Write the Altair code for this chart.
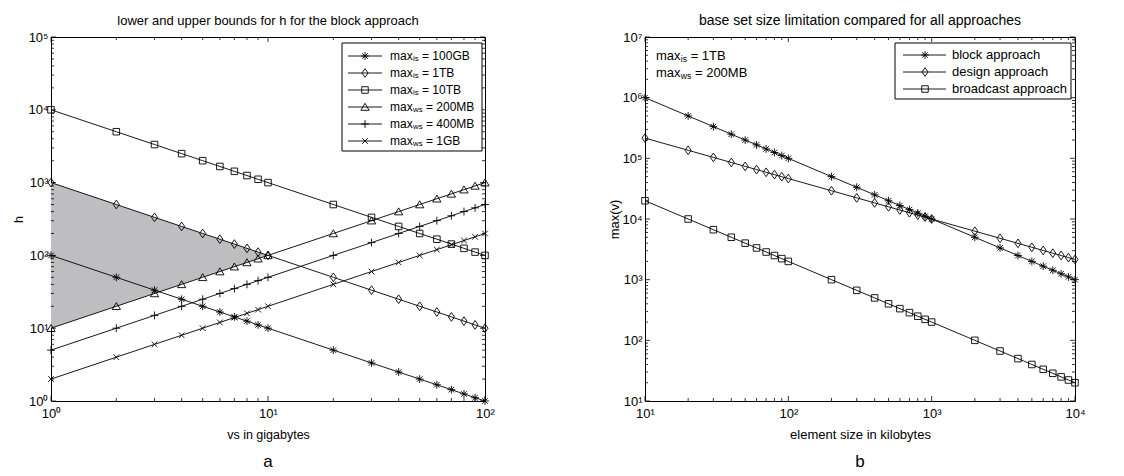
import altair as alt
import pandas as pd

FONT = "Liberation Sans"

# ---------------- panel a data ----------------
x_a = [1, 2, 3, 4, 5, 6, 7, 8, 9, 10, 20, 30, 40, 50, 60, 70, 80, 90, 100]
h_100GB = [100, 50, 33.3, 25, 20, 16.7, 14.3, 12.5, 11.1, 10, 5, 3.33, 2.5, 2, 1.67, 1.43, 1.25, 1.11, 1]
h_1TB = [1000, 500, 333, 250, 200, 167, 143, 125, 111, 100, 50, 33.3, 25, 20, 16.7, 14.3, 12.5, 11.1, 10]
h_10TB = [10000, 5000, 3333, 2500, 2000, 1667, 1429, 1250, 1111, 1000, 500, 333, 250, 200, 167, 143, 125, 111, 100]
h_200MB = [10, 20, 30, 40, 50, 60, 70, 80, 90, 100, 200, 300, 400, 500, 600, 700, 800, 900, 1000]
h_400MB = [5, 10, 15, 20, 25, 30, 35, 40, 45, 50, 100, 150, 200, 250, 300, 350, 400, 450, 500]
h_1GB = [2, 4, 6, 8, 10, 12, 14, 16, 18, 20, 40, 60, 80, 100, 120, 140, 160, 180, 200]
names_a = ["maxis = 100GB", "maxis = 1TB", "maxis = 10TB",
           "maxws = 200MB", "maxws = 400MB", "maxws = 1GB"]
series_a = [h_100GB, h_1TB, h_10TB, h_200MB, h_400MB, h_1GB]
# shaded region: between 1TB (upper) and 200MB (lower) for vs in 1..10
shade_x = [1, 2, 3, 4, 5, 6, 7, 8, 9, 10]
shade_hi = [1000, 500, 333, 250, 200, 167, 143, 125, 111, 100]
shade_lo = [10, 20, 30, 40, 50, 60, 70, 80, 90, 100]

# ---------------- panel b data ----------------
x_b = [10, 20, 30, 40, 50, 60, 70, 80, 90, 100, 200, 300, 400, 500, 600, 700, 800, 900,
       1000, 2000, 3000, 4000, 5000, 6000, 7000, 8000, 9000, 10000]
v_block = [1000000, 500000, 333333, 250000, 200000, 166667, 142857, 125000, 111111, 100000,
           50000, 33333, 25000, 20000, 16667, 14286, 12500, 11111, 10000,
           5000, 3333, 2500, 2000, 1667, 1429, 1250, 1111, 1000]
v_design = [215443, 135721, 103574, 85499, 73681, 65248, 58876, 53861, 49791, 46416,
            29240, 22314, 18420, 15874, 14057, 12685, 11604, 10728, 10000,
            6300, 4807, 3969, 3420, 3029, 2733, 2500, 2311, 2154]
v_broadcast = [20000, 10000, 6667, 5000, 4000, 3333, 2857, 2500, 2222, 2000,
               1000, 667, 500, 400, 333, 286, 250, 222, 200,
               100, 66.7, 50, 40, 33.3, 28.6, 25, 22.2, 20]
names_b = ["block approach", "design approach", "broadcast approach"]
series_b = [v_block, v_design, v_broadcast]
annot_b = ["maxis = 1TB", "maxws = 200MB"]

# ---------------- marker paths (unit coords) ----------------
P_AST = "M-0.9,0L0.9,0M0,-0.9L0,0.9M-0.64,-0.64L0.64,0.64M-0.64,0.64L0.64,-0.64"
P_DIA = "M0,-1L0.7,0L0,1L-0.7,0Z"
P_SQ = "M-0.75,-0.75L0.75,-0.75L0.75,0.75L-0.75,0.75Z"
P_TRI = "M0,-0.85L0.95,0.75L-0.95,0.75Z"
P_PLUS = "M-0.9,0L0.9,0M0,-0.9L0,0.9"
P_X = "M-0.65,-0.65L0.65,0.65M-0.65,0.65L0.65,-0.65"

paths_a = [P_AST, P_DIA, P_SQ, P_TRI, P_PLUS, P_X]
paths_b = [P_AST, P_DIA, P_SQ]

EXP = "'10' + ['⁰','¹','²','³','⁴','⁵','⁶','⁷'][round(log(datum.value)/LN10)]"
MULT = [1, 2, 3, 4, 5, 6, 7, 8, 9]
# approximate Arial advance widths (em) used to place subscripts
CW = {"m": 0.833, "a": 0.556, "x": 0.5, "i": 0.222, "s": 0.5, "w": 0.722}
ONE = pd.DataFrame({"k": [0]})
MSIZE = 76
SW = 0.9


def long_df(xs, names, series):
    rows = []
    for n, ys in zip(names, series):
        for xv, yv in zip(xs, ys):
            rows.append({"x": xv, "y": yv, "series": n})
    return pd.DataFrame(rows)


def tick_df(e0, e1):
    rows = []
    for e in range(e0, e1):
        for m in MULT:
            rows.append({"v": m * 10 ** e, "kind": "major" if m == 1 else "minor"})
    rows.append({"v": 10 ** e1, "kind": "major"})
    return pd.DataFrame(rows)


def txt(t, x, y, size):
    return alt.Chart(pd.DataFrame({"t": [t]})).mark_text(
        font=FONT, fontSize=size, color="black", align="left", baseline="middle").encode(
        text="t:N", x=alt.value(x), y=alt.value(y))


def label_layers(label, x0, y, fs):
    """label like 'maxis = 1TB' -> 'max' + subscript 'is' + '= 1TB'"""
    if not label.startswith("max"):
        return [txt(label, x0, y, fs)]
    sub = label[3:5]
    rest = label[6:]
    sfs = fs * 0.66
    w_max = sum(CW[c] for c in "max") * fs
    w_sub = sum(CW[c] for c in sub) * sfs
    return [txt("max", x0, y, fs),
            txt(sub, x0 + w_max + 0.3, y + 3, sfs),
            txt(rest, x0 + w_max + w_sub + 0.3 + 0.278 * fs, y, fs)]


def legend_layers(names, paths, box, fs):
    bx0, bx1, by0, by1, row0, dy, l0, l1, mk, lx = box
    out = [alt.Chart(ONE).mark_rect(fill="white", stroke="black", strokeWidth=1).encode(
        x=alt.value(bx0), x2=alt.value(bx1), y=alt.value(by0), y2=alt.value(by1))]
    for i, (n, p) in enumerate(zip(names, paths)):
        yy = row0 + dy * i
        out.append(alt.Chart(ONE).mark_rule(color="black", strokeWidth=SW).encode(
            x=alt.value(bx0 + l0), x2=alt.value(bx0 + l1), y=alt.value(yy)))
        out.append(alt.Chart(ONE).mark_point(filled=False, color="black", strokeWidth=SW,
                                             size=MSIZE, opacity=1).encode(
            x=alt.value(bx0 + mk), y=alt.value(yy), shape=alt.value(p)))
        out += label_layers(n, bx0 + lx, yy, fs)
    return out


def panel(df, names, paths, xs, ys, xvals, yvals, xtitle, ytitle, title, W, H,
          xt, yt, legbox, letter, ytx, fs_title, fs_axis, fs_leg, extra=None):
    xscale = alt.Scale(type="log", domain=xs, nice=False)
    yscale = alt.Scale(type="log", domain=ys, nice=False)
    lines = alt.Chart(df).mark_line(color="black", strokeWidth=SW).encode(
        x=alt.X("x:Q", scale=xscale,
                axis=alt.Axis(values=xvals, labelExpr=EXP, title=xtitle, labelFlush=False,
                              labelOverlap=False, labelPadding=6, titleY=33,
                              titleBaseline="middle", titleFontSize=fs_axis)),
        y=alt.Y("y:Q", scale=yscale,
                axis=alt.Axis(values=yvals, labelExpr=EXP, title=ytitle, labelFlush=False,
                              labelOverlap=False, labelPadding=3, titleX=ytx, titleY=H / 2,
                              titleBaseline="middle", titleAlign="center", titleAngle=270,
                              titleFontSize=fs_axis)),
        detail="series:N",
    )
    pts = alt.Chart(df).mark_point(filled=False, color="black", strokeWidth=SW, size=MSIZE,
                                   opacity=1).encode(
        x=alt.X("x:Q", scale=xscale, axis=None),
        y=alt.Y("y:Q", scale=yscale, axis=None),
        shape=alt.Shape("series:N", scale=alt.Scale(domain=names, range=paths), legend=None),
    )
    layers = []
    if extra is not None:
        layers += extra(xscale, yscale)
    layers += [lines, pts]
    tx, ty = tick_df(*xt), tick_df(*yt)
    for kind, L in [("major", 5), ("minor", 3)]:
        sx = tx[tx.kind == kind]
        sy = ty[ty.kind == kind]
        r = dict(color="black", strokeWidth=0.8)
        layers.append(alt.Chart(sx).mark_rule(**r).encode(
            x=alt.X("v:Q", scale=xscale, axis=None), y=alt.value(0), y2=alt.value(L)))
        layers.append(alt.Chart(sx).mark_rule(**r).encode(
            x=alt.X("v:Q", scale=xscale, axis=None), y=alt.value(H), y2=alt.value(H - L)))
        layers.append(alt.Chart(sy).mark_rule(**r).encode(
            y=alt.Y("v:Q", scale=yscale, axis=None), x=alt.value(0), x2=alt.value(L)))
        layers.append(alt.Chart(sy).mark_rule(**r).encode(
            y=alt.Y("v:Q", scale=yscale, axis=None), x=alt.value(W), x2=alt.value(W - L)))
    layers += legend_layers(names, paths, legbox, fs_leg)
    lab = alt.Chart(pd.DataFrame({"t": [letter]})).mark_text(
        font=FONT, fontSize=17, color="black", baseline="alphabetic").encode(
        text="t:N", x=alt.value(W / 2), y=alt.value(H + 66))
    layers.append(lab)
    return alt.layer(*layers).resolve_scale(shape="independent").resolve_axis(
        x="independent", y="independent").properties(
        width=W, height=H,
        title=alt.TitleParams(title, font=FONT, fontSize=fs_title, fontWeight="normal",
                              color="black", offset=3),
    )


def shade(xscale, yscale):
    sdf = pd.DataFrame({"x": shade_x, "hi": shade_hi, "lo": shade_lo})
    return [alt.Chart(sdf).mark_area(color="#bebec0", opacity=1).encode(
        x=alt.X("x:Q", scale=xscale, axis=None),
        y=alt.Y("hi:Q", scale=yscale, axis=None),
        y2="lo:Q",
    )]


def annot(xscale, yscale):
    out = []
    for t, yy in zip(annot_b, [19, 36]):
        out += label_layers(t, 11, yy, 13)
    return out


H = 364
pa = panel(long_df(x_a, names_a, series_a), names_a, paths_a, [1, 100], [1, 100000],
           [1, 10, 100], [1, 10, 100, 1000, 10000, 100000], "vs in gigabytes", "h",
           "lower and upper bounds for h for the block approach", 434, H,
           (0, 2), (0, 5), (291, 431, 6, 114, 19, 17, 6, 40, 23, 48), "a", -33,
           13, 12.5, 12, extra=shade)
pb = panel(long_df(x_b, names_b, series_b), names_b, paths_b, [10, 10000], [10, 10000000],
           [10, 100, 1000, 10000], [10, 100, 1000, 10000, 100000, 1000000, 10000000],
           "element size in kilobytes", "max(v)",
           "base set size limitation compared for all approaches", 430, H,
           (1, 4), (1, 7), (250, 426, 6, 62, 18, 17, 8, 51, 30, 57), "b", -31,
           14, 13, 13, extra=annot)

chart = alt.hconcat(pa, pb, spacing=112).properties(
    padding={"left": 3, "top": 5, "right": 5, "bottom": 0}
).configure_view(stroke="black", strokeWidth=1).configure_axis(
    labelFont=FONT, labelFontSize=13, labelColor="black", titleFont=FONT,
    titleFontWeight="normal", titleColor="black", ticks=False, grid=False, domain=False,
)

chart.save("out.html", embed_options={"renderer": "svg", "actions": False})
